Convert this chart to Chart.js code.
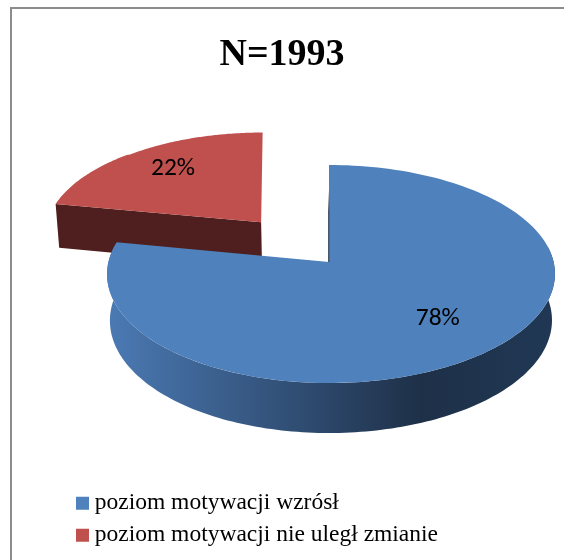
<!DOCTYPE html>
<html lang="pl">
<head>
<meta charset="utf-8">
<title>N=1993</title>
<style>html,body{margin:0;padding:0;background:#fff}canvas{display:block}</style>
<script src="https://cdn.jsdelivr.net/npm/chart.js@4"></script>
</head>
<body>
<canvas id="c" width="564" height="560"></canvas>
<script>
const categories = ['poziom motywacji wzrósł', 'poziom motywacji nie uległ zmianie'];
const shares = [78, 22];
const chartTitle = 'N=1993';
const topColors = ['#4F81BD', '#C0504D'];

// view of the tilted disc (unit circle -> page pixels)
const view = {cx: 329, cy: 262, ax: 222.6, ay: 107.7, k: 0.11, widen: 2, backSkew: 10};
const wall = {depth: 46, slope: 4, shrink: 0.987};
const labelPlace = [{r: 0.68, dx: 6, dy: -3}, {r: 0.75, dx: 6, dy: 0}];

function project(u, v, s) {
  const w = 1 - view.k * v;
  const nudge = Math.abs(u) <= 1 ? view.widen * u * u : 0;
  const skew = s ? s.d * view.backSkew * (v - s.ov) : 0;
  return {x: view.cx + view.ax * u / w + nudge + skew, y: view.cy + view.ay * v / w};
}
function lower(u, v, s) {
  const p = project(u, v, s);
  return {x: view.cx + (p.x - view.cx) * wall.shrink, y: p.y + wall.depth + wall.slope * v};
}
function rim(theta, ou, ov, r = 1) {
  return [ou + r * Math.sin(theta), ov - r * Math.cos(theta)];
}
function pathOf(ctx, pts) {
  ctx.beginPath();
  pts.forEach((p, i) => i ? ctx.lineTo(p.x, p.y) : ctx.moveTo(p.x, p.y));
  ctx.closePath();
}

const pie3d = {
  id: 'pie3d',
  beforeDraw(chart) {
    const ctx = chart.ctx;
    ctx.save();
    ctx.strokeStyle = '#8C8C8C';
    ctx.lineWidth = 2;
    ctx.beginPath();
    ctx.moveTo(11, 562);
    ctx.lineTo(11, 8);
    ctx.lineTo(566, 8);
    ctx.stroke();
    ctx.restore();
  },
  afterLayout(chart) {
    chart.legend.left = 73.5;
    chart.legend.right = 564;
  },
  beforeDatasetsDraw(chart) {
    const ctx = chart.ctx;
    const arcs = chart.getDatasetMeta(0).data;
    const slices = arcs.map(el => {
      const a = el.startAngle + Math.PI / 2, b = el.endAngle + Math.PI / 2;
      const mid = (a + b) / 2, d = el.options.offset / el.outerRadius;
      return {a, b, mid, d, ou: d * Math.sin(mid), ov: -d * Math.cos(mid)};
    });
    const sample = (s, from, to, fn) => {
      const out = [], n = 160;
      for (let i = 0; i <= n; i++) {
        const [u, v] = rim(from + (to - from) * i / n, s.ou, s.ov);
        out.push(fn(u, v, s));
      }
      return out;
    };
    // red slice: cut face, then top
    const red = slices[1];
    ctx.save();
    const [lu, lv] = rim(red.a, red.ou, red.ov);
    pathOf(ctx, [project(lu, lv, red), project(red.ou, red.ov, red), lower(red.ou, red.ov, red), lower(lu, lv, red)]);
    ctx.fillStyle = '#4E1F1E';
    ctx.fill();
    pathOf(ctx, [project(red.ou, red.ov, red)].concat(sample(red, red.a, red.b, project)));
    ctx.fillStyle = topColors[1];
    ctx.fill();
    // blue slice: rounded wall, then cut line, then top
    const blue = slices[0];
    const front = Math.PI / 2, back = 3 * Math.PI / 2;
    pathOf(ctx, sample(blue, front - 0.15, back + 0.15, project)
      .concat(sample(blue, front - 0.15, back + 0.15, lower).reverse()));
    const g = ctx.createLinearGradient(107, 0, 555, 0);
    g.addColorStop(0, '#4B7AB4');
    g.addColorStop(0.7, '#1E3048');
    g.addColorStop(1, '#203855');
    ctx.fillStyle = g;
    ctx.fill();
    pathOf(ctx, [project(blue.ou, blue.ov, blue)].concat(sample(blue, blue.a, blue.b, project)));
    ctx.fillStyle = topColors[0];
    ctx.fill();
    const edge = ctx.createLinearGradient(0, 190, 0, 262);
    edge.addColorStop(0, 'rgba(30,48,72,0)');
    edge.addColorStop(0.3, 'rgba(30,48,72,0.9)');
    edge.addColorStop(1, 'rgba(30,48,72,0.9)');
    ctx.strokeStyle = edge;
    ctx.lineWidth = 1.2;
    ctx.beginPath();
    ctx.moveTo(view.cx - 0.3, 190);
    ctx.lineTo(view.cx - 0.3, view.cy);
    ctx.stroke();
    // value labels
    ctx.fillStyle = '#000';
    ctx.font = '25.5px Carlito, Lato, "Open Sans", sans-serif';
    ctx.textAlign = 'center';
    ctx.textBaseline = 'middle';
    slices.forEach((s, i) => {
      const place = labelPlace[i];
      const [u, v] = rim(s.mid, s.ou, s.ov, place.r);
      const p = project(u, v, s);
      ctx.fillText(shares[i] + '%', p.x + place.dx, p.y + place.dy);
    });
    ctx.restore();
    return false;
  }
};

new Chart(document.getElementById('c'), {
  type: 'pie',
  data: {
    labels: categories,
    datasets: [{
      data: shares,
      backgroundColor: topColors,
      borderWidth: 0,
      offset: [0, 50],
      radius: 100
    }]
  },
  plugins: [pie3d],
  options: {
    responsive: false,
    animation: false,
    devicePixelRatio: 1,
    layout: {padding: {top: 32, bottom: 3}},
    plugins: {
      tooltip: {enabled: false},
      title: {
        display: true,
        text: chartTitle,
        color: '#000',
        font: {family: '"Liberation Serif", serif', size: 38, weight: 'bold'},
        padding: {top: 0, bottom: 0}
      },
      legend: {
        position: 'bottom',
        align: 'start',
        labels: {
          color: '#1a1a1a',
          font: {family: '"Liberation Serif", serif', size: 23.5},
          boxWidth: 1,
          boxHeight: 1,
          padding: 8.5,
          generateLabels(chart) {
            return categories.map((text, i) => ({
              text,
              fillStyle: topColors[i],
              strokeStyle: topColors[i],
              lineWidth: 12,
              lineJoin: 'miter',
              index: i
            }));
          }
        }
      }
    }
  }
});
</script>
</body>
</html>
